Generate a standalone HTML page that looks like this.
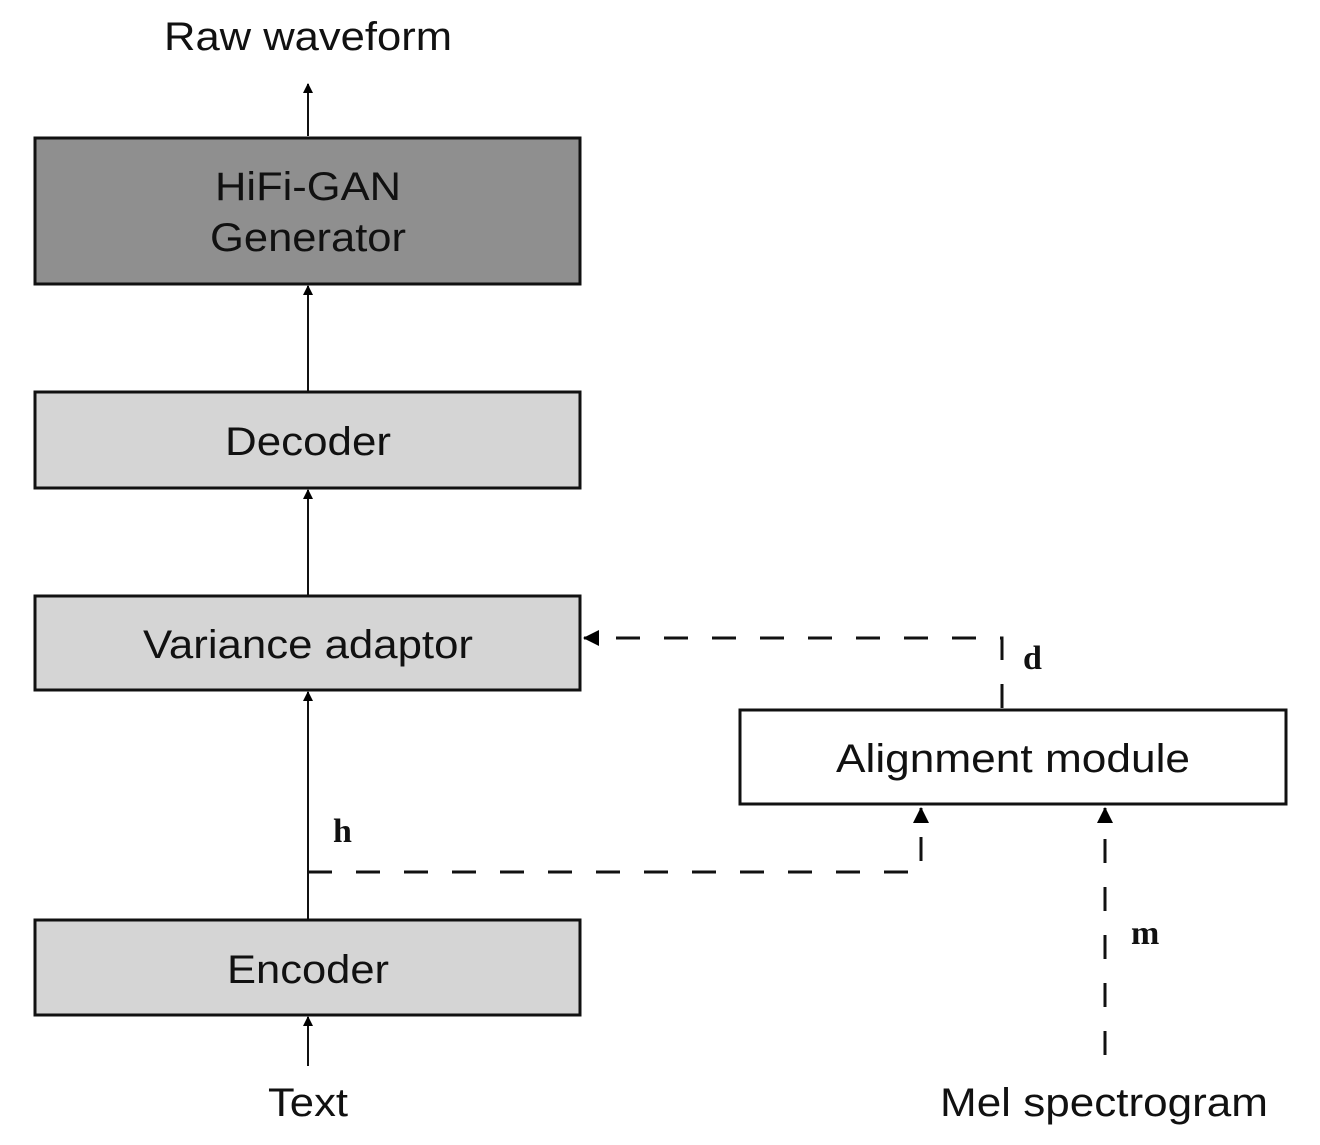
<!DOCTYPE html>
<html><head><style>html,body{margin:0;padding:0;background:#fff}</style></head>
<body>
<svg width="1320" height="1140" viewBox="0 0 1320 1140" xmlns="http://www.w3.org/2000/svg">
<defs>
<marker id="a" markerWidth="10" markerHeight="10" refX="9" refY="5" orient="auto" markerUnits="userSpaceOnUse"><path d="M0,0 L10,5 L0,10 z" fill="#000"/></marker>
<marker id="b" markerWidth="16" markerHeight="16" refX="15" refY="8" orient="auto" markerUnits="userSpaceOnUse"><path d="M0,0 L16,8 L0,16 z" fill="#000"/></marker>
</defs>
<g font-family="Liberation Sans, sans-serif" font-size="40" text-anchor="middle" fill="#111">
<text x="308" y="50" textLength="288" lengthAdjust="spacingAndGlyphs">Raw waveform</text>
<text x="308" y="1116" textLength="80" lengthAdjust="spacingAndGlyphs">Text</text>
<text x="1104" y="1116" textLength="328" lengthAdjust="spacingAndGlyphs">Mel spectrogram</text>
</g>
<g stroke="#111" stroke-width="3">
<rect x="35" y="138" width="545" height="146" fill="#8f8f8f"/>
<rect x="35" y="392" width="545" height="96" fill="#d5d5d5"/>
<rect x="35" y="596" width="545" height="94" fill="#d5d5d5"/>
<rect x="35" y="920" width="545" height="95" fill="#d5d5d5"/>
<rect x="740" y="710" width="546" height="94" fill="#fff"/>
</g>
<g font-family="Liberation Sans, sans-serif" font-size="40" text-anchor="middle" fill="#111">
<text x="308" y="200" textLength="186" lengthAdjust="spacingAndGlyphs">HiFi-GAN</text>
<text x="308" y="251" textLength="196" lengthAdjust="spacingAndGlyphs">Generator</text>
<text x="308" y="455" textLength="166" lengthAdjust="spacingAndGlyphs">Decoder</text>
<text x="308" y="658" textLength="330" lengthAdjust="spacingAndGlyphs">Variance adaptor</text>
<text x="308" y="983" textLength="162" lengthAdjust="spacingAndGlyphs">Encoder</text>
<text x="1013" y="772" textLength="354" lengthAdjust="spacingAndGlyphs">Alignment module</text>
</g>
<g stroke="#111" stroke-width="2" fill="none">
<line x1="308" y1="136" x2="308" y2="84" marker-end="url(#a)"/>
<line x1="308" y1="392" x2="308" y2="286" marker-end="url(#a)"/>
<line x1="308" y1="596" x2="308" y2="490" marker-end="url(#a)"/>
<line x1="308" y1="920" x2="308" y2="692" marker-end="url(#a)"/>
<line x1="308" y1="1066" x2="308" y2="1017" marker-end="url(#a)"/>
</g>
<g stroke="#111" stroke-width="3" fill="none" stroke-dasharray="24,24">
<polyline points="308,872 921,872 921,808" marker-end="url(#b)"/>
<polyline points="1002,708 1002,638 584,638" marker-end="url(#b)"/>
<line x1="1105" y1="1055" x2="1105" y2="808" marker-end="url(#b)"/>
</g>
<g font-family="Liberation Serif, serif" font-weight="bold" font-size="34" fill="#111">
<text x="333" y="842">h</text>
<text x="1023" y="669">d</text>
<text x="1131" y="944">m</text>
</g>
</svg>
</body></html>
